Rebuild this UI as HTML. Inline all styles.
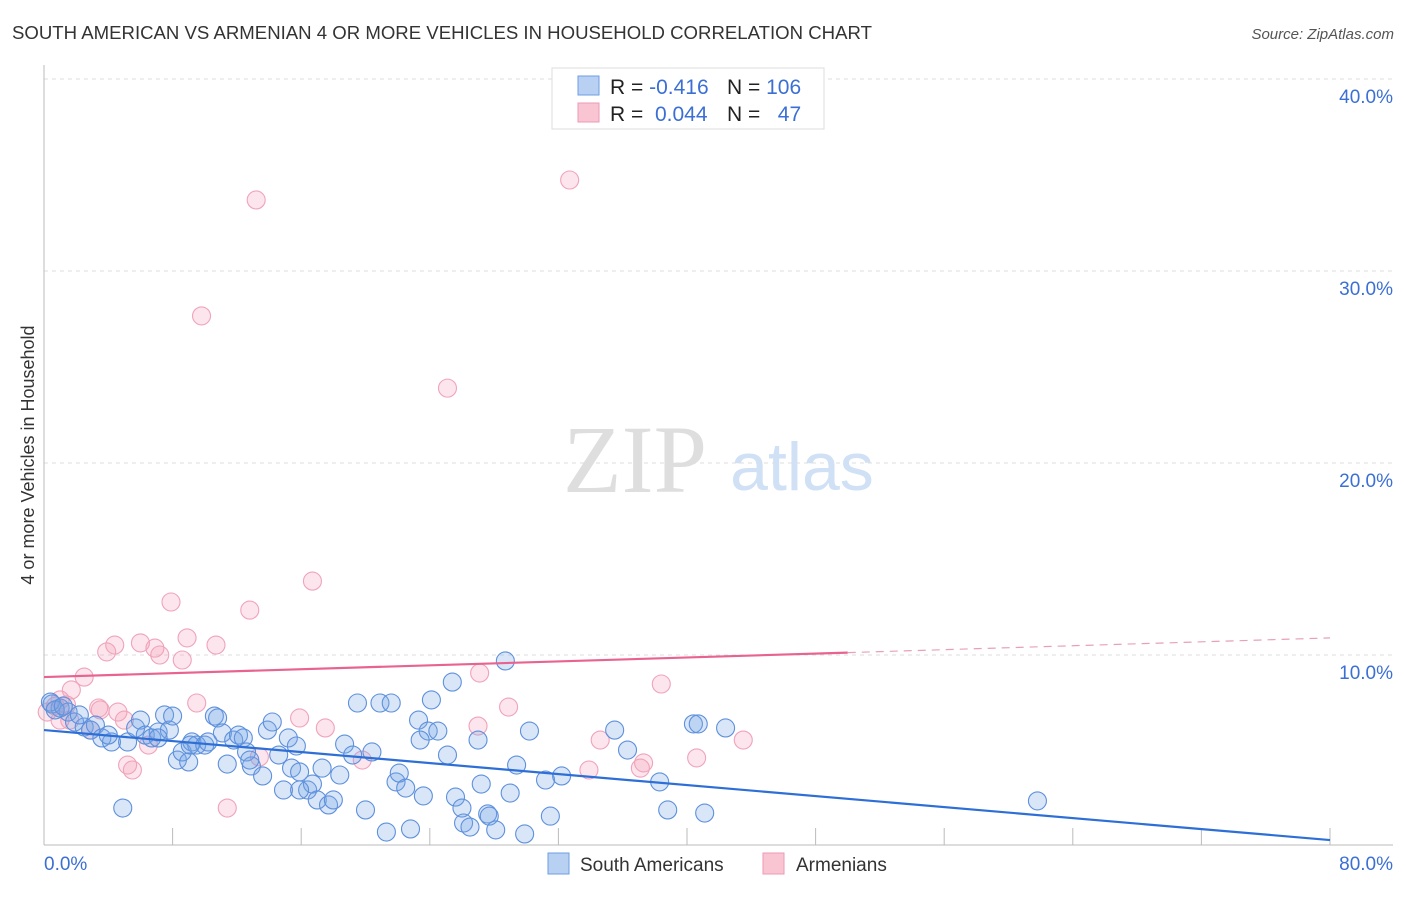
<!DOCTYPE html>
<html><head><meta charset="utf-8"><style>
body{margin:0;background:#fff;font-family:"Liberation Sans",sans-serif;}
svg text{font-family:"Liberation Sans",sans-serif;}
</style></head><body>
<svg width="1406" height="892">
<text x="12" y="39" font-size="18.6" fill="#333">SOUTH AMERICAN VS ARMENIAN 4 OR MORE VEHICLES IN HOUSEHOLD CORRELATION CHART</text>
<text x="1394" y="39" font-size="15" fill="#555" font-style="italic" text-anchor="end">Source: ZipAtlas.com</text>
<g id="grid"></g>
<text x="635" y="492" font-size="96" fill="#dedede" text-anchor="middle" style="font-family:'Liberation Serif',serif">ZIP</text>
<text x="802" y="490" font-size="68" fill="#d0e0f5" text-anchor="middle">atlas</text>
<g id="pts"></g>
<g id="lines"></g>
<text x="34" y="455" font-size="18" fill="#333" text-anchor="middle" transform="rotate(-90 34 455)">4 or more Vehicles in Household</text>
<g>
<rect x="552" y="68" width="272" height="61" fill="#fff" stroke="#ddd"/>
<rect x="578" y="76" width="21" height="19" fill="#b8d1f3" stroke="#6e9de0"/>
<rect x="578" y="103" width="21" height="19" fill="#f9c5d3" stroke="#ec9ab4"/>
<text x="610" y="94" font-size="21" fill="#222">R = <tspan fill="#3b6fd4">-0.416</tspan></text>
<text x="727" y="94" font-size="21" fill="#222">N = <tspan fill="#3b6fd4">106</tspan></text>
<text x="610" y="121" font-size="21" fill="#222">R = <tspan fill="#3b6fd4" xml:space="preserve"> 0.044</tspan></text>
<text x="727" y="121" font-size="21" fill="#222" xml:space="preserve">N =   <tspan fill="#3b6fd4">47</tspan></text>
</g>
<g>
<rect x="548" y="853" width="21" height="21" fill="#b8d1f3" stroke="#6e9de0"/>
<text x="580" y="871" font-size="19" fill="#333">South Americans</text>
<rect x="763" y="853" width="21" height="21" fill="#f9c5d3" stroke="#ec9ab4"/>
<text x="796" y="871" font-size="19" fill="#333">Armenians</text>
</g>
</svg>
<script>
const xTicksLabels=["0.0%","80.0%"];
const yTicks=[10,20,30,40];
const blueX=[0.5,1.0,1.5,1.9,2.5,2.9,3.2,3.6,4.2,4.9,5.2,5.7,6.0,6.3,6.7,7.1,7.5,7.8,8.0,8.3,8.6,9.0,9.2,9.5,10.0,10.2,10.6,10.8,11.1,11.4,11.8,12.1,12.4,12.6,12.9,13.6,13.9,14.2,14.6,14.9,15.2,15.4,15.7,15.9,16.4,16.7,17.0,17.3,17.7,18.0,18.4,18.7,19.2,19.5,20.0,20.4,20.9,21.3,21.6,21.9,22.1,22.5,22.8,23.3,23.6,23.9,24.1,24.5,25.1,25.4,25.6,26.0,26.1,26.5,27.0,27.2,27.6,27.7,28.1,28.7,29.0,29.4,29.9,30.2,31.2,31.5,32.2,35.5,36.3,38.3,38.8,40.4,40.7,41.1,42.4,61.8,0.4,0.7,1.2,2.2,4.0,7.1,9.1,12.8,15.9,23.4];
const blueY=[7.45,7.24,7.03,6.51,6.25,6.09,6.35,5.68,5.47,2.03,5.47,6.20,6.61,5.83,5.68,5.99,6.88,6.09,6.82,4.53,4.95,4.43,5.47,5.31,5.31,5.47,6.82,6.72,5.94,4.32,5.57,5.83,5.68,4.95,4.22,3.70,6.09,6.51,4.79,2.97,5.68,4.11,5.26,3.91,2.97,3.28,2.45,4.11,2.19,2.45,3.75,5.36,4.79,7.50,1.93,4.95,7.50,0.78,7.50,3.39,3.85,3.07,0.94,6.61,2.66,6.04,7.66,6.04,4.79,8.59,2.60,2.03,1.25,1.04,5.57,3.28,1.72,1.61,0.89,9.69,2.81,4.27,0.68,6.04,3.49,1.61,3.70,6.09,5.05,3.39,1.93,6.41,6.41,1.77,6.20,2.40,7.55,7.14,7.34,6.88,5.83,5.68,5.31,4.53,2.97,5.57];
const pinkX=[0.2,0.7,1.0,1.4,1.7,2.5,3.4,3.5,3.9,4.4,4.6,5.2,5.5,6.0,6.5,6.9,7.2,7.9,8.6,8.9,9.5,9.8,10.7,11.4,12.8,13.2,13.4,15.9,16.7,17.5,19.8,25.1,27.1,27.0,28.9,32.7,34.6,37.1,37.3,38.4,40.6,43.5,33.9,1.6,2.9,5.0,1.0];
const pinkY=[7.03,7.34,7.66,7.40,8.18,8.85,7.24,7.14,10.16,10.52,7.03,4.27,4.01,10.63,5.31,10.36,10.0,12.76,9.74,10.89,7.50,27.66,10.52,2.03,12.34,33.7,4.69,6.72,13.85,6.20,4.53,23.9,9.06,6.30,7.29,34.74,5.57,4.11,4.38,8.49,4.64,5.57,4.01,6.61,6.09,6.61,6.61];
const blueLine=[6.09,0.36];
const pinkLine=[8.85,10.89];
const pinkSolidEnd=50;

const NS="http://www.w3.org/2000/svg";
const X=v=>44+v*1286/80, Y=v=>847-v*19.2;
function mk(tag,attrs,parent){const e=document.createElementNS(NS,tag);for(const k in attrs)e.setAttribute(k,attrs[k]);parent.appendChild(e);return e;}
const grid=document.getElementById('grid');
yTicks.forEach(t=>{
 const l=mk('line',{x1:44,x2:1393,y1:Y(t),y2:Y(t),stroke:'#ddd','stroke-dasharray':'4 4'},grid);
 
 
 const tx=mk('text',{x:1393,y:Y(t)+24,'font-size':19,fill:'#3b6fd4','text-anchor':'end'},grid);
 tx.textContent=t.toFixed(1)+'%';
 
 
});
const ya=mk('line',{x1:44,x2:44,y1:65,y2:845,stroke:'#bbb'},grid);


const xa=mk('line',{x1:44,x2:1393,y1:845,y2:845,stroke:'#bbb'},grid);


for(let i=1;i<=10;i++){const t=mk('line',{x1:X(i*8),x2:X(i*8),y1:828,y2:845,stroke:'#bbb'},grid);
 
 }
const xl0=mk('text',{x:44,y:870,'font-size':19,fill:'#3b6fd4'},grid);xl0.textContent=xTicksLabels[0];


const xl1=mk('text',{x:1393,y:870,'font-size':19,fill:'#3b6fd4','text-anchor':'end'},grid);xl1.textContent=xTicksLabels[1];


const pts=document.getElementById('pts');
pinkX.forEach((x,i)=>{const c=mk('circle',{cx:X(x),cy:Y(pinkY[i]),r:9,fill:'rgba(244,160,188,0.28)',stroke:'#f0a3bb','stroke-width':1.1},pts);
 
 });
blueX.forEach((x,i)=>{const c=mk('circle',{cx:X(x),cy:Y(blueY[i]),r:9,fill:'rgba(120,165,230,0.28)',stroke:'#5e90dc','stroke-width':1.1},pts);
 
 });
const lines=document.getElementById('lines');
const bl=mk('line',{x1:X(0),y1:Y(blueLine[0]),x2:X(80),y2:Y(blueLine[1]),stroke:'#2d6fd6','stroke-width':2.2},lines);


const py=x=>pinkLine[0]+(pinkLine[1]-pinkLine[0])*x/80;
const pl=mk('line',{x1:X(0),y1:Y(py(0)),x2:X(pinkSolidEnd),y2:Y(py(pinkSolidEnd)),stroke:'#e8638f','stroke-width':2.2},lines);


const pd=mk('line',{x1:X(pinkSolidEnd),y1:Y(py(pinkSolidEnd)),x2:X(80),y2:Y(py(80)),stroke:'#e8a0b8','stroke-width':1.2,'stroke-dasharray':'8 6'},lines);


</script>
</body></html>
